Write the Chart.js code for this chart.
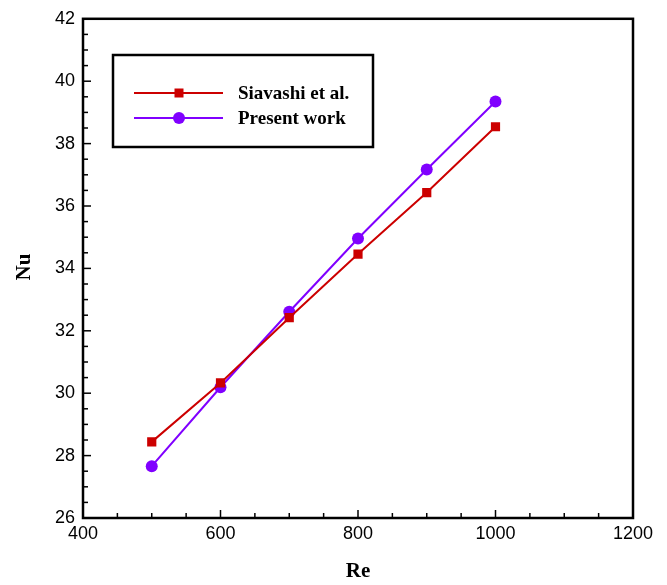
<!DOCTYPE html>
<html>
<head>
<meta charset="utf-8">
<script src="https://cdn.jsdelivr.net/npm/chart.js@4"></script>
<style>
    body { margin: 0; background: #fff; }
    #wrap { width: 667px; height: 585px; }
</style>
</head>
<body>
<div id="wrap"><canvas id="nuChart"></canvas></div>
<script>
const reValues = [500, 600, 700, 800, 900, 1000];
const siavashiNu = [28.44, 30.33, 32.42, 34.46, 36.43, 38.54];
const presentNu = [27.66, 30.19, 32.61, 34.96, 37.17, 39.35];
const xTicks = [400, 600, 800, 1000, 1200];
const yTicks = [26, 28, 30, 32, 34, 36, 38, 40, 42];

const red = 'rgb(204,0,0)';
const purple = 'rgb(128,0,255)';

// inward ticks, frame, legend box and axis titles
const framePlugin = {
    id: 'frame',
    afterDraw(chart) {
        const ctx = chart.ctx;
        const a = chart.chartArea;
        const x = chart.scales.x;
        const y = chart.scales.y;
        ctx.save();
        ctx.strokeStyle = '#000';
        ctx.lineWidth = 1.5;
        for (let v = 400; v <= 1200; v += 50) {
            const px = x.getPixelForValue(v);
            const len = v % 200 === 0 ? 8 : 5;
            ctx.beginPath();
            ctx.moveTo(px, a.bottom);
            ctx.lineTo(px, a.bottom - len);
            ctx.stroke();
        }
        for (let v = 26; v <= 42; v += 0.5) {
            const py = y.getPixelForValue(v);
            const len = v % 2 === 0 ? 8 : 5;
            ctx.beginPath();
            ctx.moveTo(a.left, py);
            ctx.lineTo(a.left + len, py);
            ctx.stroke();
        }
        ctx.lineWidth = 2.5;
        ctx.strokeRect(a.left, a.top, a.right - a.left, a.bottom - a.top);

        // legend
        ctx.lineWidth = 2.5;
        ctx.strokeRect(113, 55, 260, 92);
        const items = [
            {label: 'Siavashi et al.', color: red, square: true, y: 93},
            {label: 'Present work', color: purple, square: false, y: 118}
        ];
        ctx.font = 'bold 19px "Liberation Serif"';
        ctx.textBaseline = 'middle';
        items.forEach(it => {
            ctx.strokeStyle = it.color;
            ctx.fillStyle = it.color;
            ctx.lineWidth = 2;
            ctx.beginPath();
            ctx.moveTo(134, it.y);
            ctx.lineTo(223, it.y);
            ctx.stroke();
            if (it.square) {
                ctx.fillRect(174.5, it.y - 4.5, 9, 9);
            } else {
                ctx.beginPath();
                ctx.arc(179, it.y, 6, 0, Math.PI * 2);
                ctx.fill();
            }
            ctx.fillStyle = '#000';
            ctx.fillText(it.label, 238, it.y + 1);
        });

        // axis titles
        ctx.font = 'bold 21px "Liberation Serif"';
        ctx.textAlign = 'center';
        ctx.fillText('Re', 358, 572);
        ctx.translate(25, 267);
        ctx.rotate(-Math.PI / 2);
        ctx.fillText('Nu', 0, 0);
        ctx.restore();
    }
};

new Chart(document.getElementById('nuChart'), {
    type: 'scatter',
    data: {
        datasets: [
            {
                label: 'Siavashi et al.',
                data: reValues.map((v, i) => ({x: v, y: siavashiNu[i]})),
                showLine: true,
                borderColor: red,
                backgroundColor: red,
                borderWidth: 2,
                pointStyle: 'rect',
                pointRadius: 6.5,
                pointBorderWidth: 0
            },
            {
                label: 'Present work',
                data: reValues.map((v, i) => ({x: v, y: presentNu[i]})),
                showLine: true,
                borderColor: purple,
                backgroundColor: purple,
                borderWidth: 2,
                pointStyle: 'circle',
                pointRadius: 6,
                pointBorderWidth: 0
            }
        ]
    },
    options: {
        responsive: true,
        maintainAspectRatio: false,
        animation: false,
        layout: {
            padding: {top: 15, right: 34, left: 0, bottom: 0}
        },
        scales: {
            x: {
                type: 'linear',
                min: 400,
                max: 1200,
                afterFit: s => { s.height = 67; },
                afterBuildTicks: s => { s.ticks = xTicks.map(v => ({value: v})); },
                grid: {display: false, drawTicks: false},
                border: {display: false},
                ticks: {
                    color: '#000',
                    padding: 5,
                    maxRotation: 0,
                    callback: v => String(v),
                    font: {family: '"Liberation Sans"', size: 18}
                }
            },
            y: {
                type: 'linear',
                min: 26,
                max: 42,
                afterFit: s => { s.width = 83; },
                afterBuildTicks: s => { s.ticks = yTicks.map(v => ({value: v})); },
                grid: {display: false, drawTicks: false},
                border: {display: false},
                ticks: {
                    color: '#000',
                    padding: 8,
                    callback: v => String(v),
                    font: {family: '"Liberation Sans"', size: 18}
                }
            }
        },
        plugins: {
            legend: {display: false},
            tooltip: {enabled: false}
        }
    },
    plugins: [framePlugin]
});
</script>
</body>
</html>
